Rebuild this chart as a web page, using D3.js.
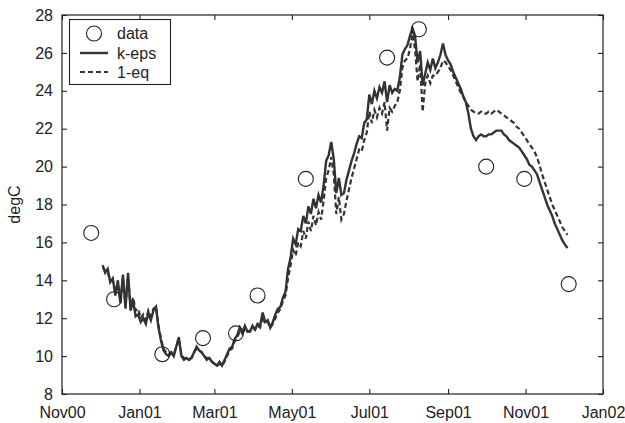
<!DOCTYPE html>
<html><head><meta charset="utf-8">
<script src="https://cdn.jsdelivr.net/npm/d3@7"></script>
<style>body{margin:0;background:#fff}svg{display:block}text{font-family:"Liberation Sans",Arial,sans-serif;fill:#222}</style>
</head><body>
<script>
// Data: day offsets from 2000-11-01
const obsDays = [23, 41, 79, 111, 137, 154, 192, 256, 281, 334, 364, 399];
const obsValues = [16.5, 13.0, 10.1, 10.95, 11.2, 13.2, 19.35, 25.75, 27.25, 20.0, 19.35, 13.8];

const modelDays = d3.range(32, 399, 2);
const kEps = [14.8,14.4,14.6,13.9,14.1,13.2,14.0,12.8,14.3,12.5,14.4,12.4,12.9,12.1,12.2,11.8,12.0,11.7,12.3,11.9,12.4,12.6,11.5,10.8,10.3,10.1,10.0,10.2,10.0,10.5,11.0,10.0,9.8,9.9,9.8,9.9,10.2,10.5,10.3,10.2,10.0,9.8,9.9,9.7,9.6,9.5,9.7,9.5,9.8,10.1,10.4,10.5,10.9,11.1,11.5,11.2,11.6,11.3,11.3,11.6,11.4,11.7,11.6,12.3,11.8,11.9,11.5,11.8,12.2,12.5,12.6,13.1,13.4,14.6,15.2,16.2,15.9,16.7,16.6,17.4,17.0,17.9,17.5,18.3,17.8,18.5,18.1,19.0,20.3,20.6,21.3,20.4,18.6,19.4,18.5,18.6,19.3,19.8,20.3,20.7,21.2,21.6,21.5,22.3,22.5,23.8,23.3,24.0,23.6,24.2,23.9,24.5,23.4,24.3,23.9,24.1,24.0,24.7,25.9,26.2,26.4,26.9,27.3,26.9,25.5,26.1,24.3,24.9,25.5,25.1,25.7,25.2,25.5,25.9,26.5,25.9,25.6,25.4,25.0,24.7,24.4,24.1,23.7,23.4,22.8,22.0,21.6,21.4,21.6,21.7,21.6,21.6,21.7,21.7,21.8,21.9,21.9,21.9,21.7,21.6,21.4,21.3,21.2,21.1,21.0,20.8,20.6,20.4,20.1,20.0,19.8,19.6,19.2,18.8,18.4,18.0,17.7,17.4,17.0,16.7,16.4,16.1,15.9,15.7];
const oneEq = [14.7,14.5,14.4,14.0,14.0,13.4,13.8,12.9,14.1,12.7,14.2,12.6,13.1,12.4,12.5,12.0,12.2,11.9,12.4,12.1,12.5,12.6,11.6,10.9,10.4,10.2,10.1,10.2,10.1,10.5,10.9,10.1,9.9,9.9,9.9,9.9,10.2,10.4,10.3,10.2,10.0,9.9,9.9,9.7,9.6,9.5,9.6,9.5,9.7,10.0,10.3,10.4,10.8,11.0,11.3,11.2,11.4,11.3,11.3,11.5,11.4,11.6,11.5,12.1,11.7,11.8,11.5,11.7,12.0,12.3,12.5,12.9,13.2,14.1,14.8,15.6,15.3,16.0,15.8,16.6,16.2,17.1,16.6,17.4,16.9,17.6,17.2,18.2,19.4,19.8,20.5,19.6,17.5,18.4,17.2,17.5,18.2,18.8,19.4,19.9,20.4,20.9,20.8,21.4,21.8,22.9,22.3,23.0,22.6,23.1,22.8,23.4,21.9,23.1,22.9,23.2,23.4,24.0,25.2,25.6,25.7,26.2,27.0,26.2,24.5,25.4,22.9,24.4,24.8,24.4,24.8,24.8,25.0,25.2,25.6,25.5,25.3,25.1,24.8,24.5,24.2,23.9,23.7,23.4,23.2,23.0,22.9,22.8,22.8,22.9,22.8,22.8,22.9,22.8,22.9,23.0,22.9,22.8,22.7,22.6,22.5,22.4,22.3,22.1,22.0,21.8,21.6,21.4,21.2,21.0,20.8,20.5,20.1,19.6,19.2,18.8,18.4,18.0,17.7,17.4,17.1,16.8,16.6,16.4];

const xTickDates = ["2000-11-01","2001-01-01","2001-03-01","2001-05-01","2001-07-01","2001-09-01","2001-11-01","2002-01-01"];
const xTickLabels = ["Nov00","Jan01","Mar01","May01","Jul01","Sep01","Nov01","Jan02"];
const yTicks = [8,10,12,14,16,18,20,22,24,26,28];

const W = 625, H = 423;
const M = {left: 62, right: 22, top: 15, bottom: 29};
const start = new Date(2000, 10, 1);
const parse = d3.timeParse("%Y-%m-%d");
const toDate = d => d3.timeDay.offset(start, d);

const svg = d3.select("body").append("svg").attr("width", W).attr("height", H);
const x = d3.scaleTime().domain([parse("2000-11-01"), parse("2002-01-01")]).range([M.left, W - M.right]);
const y = d3.scaleLinear().domain([8, 28]).range([H - M.bottom, M.top]);

const x0 = M.left, x1 = W - M.right, y0 = H - M.bottom, y1 = M.top;
const ink = "#222";
const FS = "16px";

// lines
const line = d3.line().x((d, i) => x(toDate(modelDays[i]))).y(d => y(d));
svg.append("path").datum(oneEq).attr("d", line).attr("fill", "none")
  .attr("stroke", "#333").attr("stroke-width", 2.2).attr("stroke-dasharray", "5,3");
svg.append("path").datum(kEps).attr("d", line).attr("fill", "none")
  .attr("stroke", "#333").attr("stroke-width", 2.4);

// observations
svg.selectAll("circle.obs").data(obsValues).enter().append("circle")
  .attr("class", "obs")
  .attr("cx", (d, i) => x(toDate(obsDays[i]))).attr("cy", d => y(d))
  .attr("r", 7.5).attr("fill", "none").attr("stroke", ink).attr("stroke-width", 1.1);

// frame
svg.append("rect").attr("x", x0).attr("y", y1).attr("width", x1 - x0).attr("height", y0 - y1)
  .attr("fill", "none").attr("stroke", ink).attr("stroke-width", 1.2);

const tickDates = xTickDates.map(parse);
// bottom axis
const xb = svg.append("g").attr("transform", `translate(0,${y0})`)
  .call(d3.axisBottom(x).tickValues(tickDates).tickSize(-5).tickPadding(13)
    .tickFormat((d, i) => xTickLabels[i]));
// top axis ticks
const xt = svg.append("g").attr("transform", `translate(0,${y1})`)
  .call(d3.axisTop(x).tickValues(tickDates).tickSize(-5).tickFormat(""));
// left axis
const yl = svg.append("g").attr("transform", `translate(${x0},0)`)
  .call(d3.axisLeft(y).tickValues(yTicks).tickSize(-5).tickPadding(9).tickFormat(d3.format("d")));
// right axis ticks
const yr = svg.append("g").attr("transform", `translate(${x1},0)`)
  .call(d3.axisRight(y).tickValues(yTicks).tickSize(-5).tickFormat(""));
[xb, xt, yl, yr].forEach(g => {
  g.select(".domain").remove();
  g.selectAll("line").attr("stroke", ink).attr("stroke-width", 1.1);
  g.selectAll("text").style("font-size", FS).attr("fill", ink)
    .style("font-family", '"Liberation Sans",Arial,sans-serif');
});
xb.selectAll("text").attr("dy", "0.71em");

// y label
svg.append("text").attr("transform", `translate(20,${(y0 + y1) / 2}) rotate(-90)`)
  .attr("text-anchor", "middle").style("font-size", FS).text("degC");

// legend
const lg = svg.append("g");
lg.append("rect").attr("x", 69.5).attr("y", 19.5).attr("width", 101).attr("height", 65)
  .attr("fill", "#fff").attr("stroke", ink).attr("stroke-width", 1.1);
lg.append("circle").attr("cx", 94).attr("cy", 33.5).attr("r", 7.5)
  .attr("fill", "none").attr("stroke", ink).attr("stroke-width", 1.1);
lg.append("line").attr("x1", 80).attr("x2", 108).attr("y1", 53).attr("y2", 53)
  .attr("stroke", "#333").attr("stroke-width", 2.4);
lg.append("line").attr("x1", 80).attr("x2", 108).attr("y1", 72).attr("y2", 72)
  .attr("stroke", "#333").attr("stroke-width", 2.2).attr("stroke-dasharray", "5,3");
const legendLabels = ["data", "k-eps", "1-eq"];
lg.selectAll("text.lt").data(legendLabels).enter().append("text").attr("class", "lt")
  .attr("x", 117).attr("y", (d, i) => 39 + i * 19.5).style("font-size", FS).text(d => d);
</script>
</body></html>
